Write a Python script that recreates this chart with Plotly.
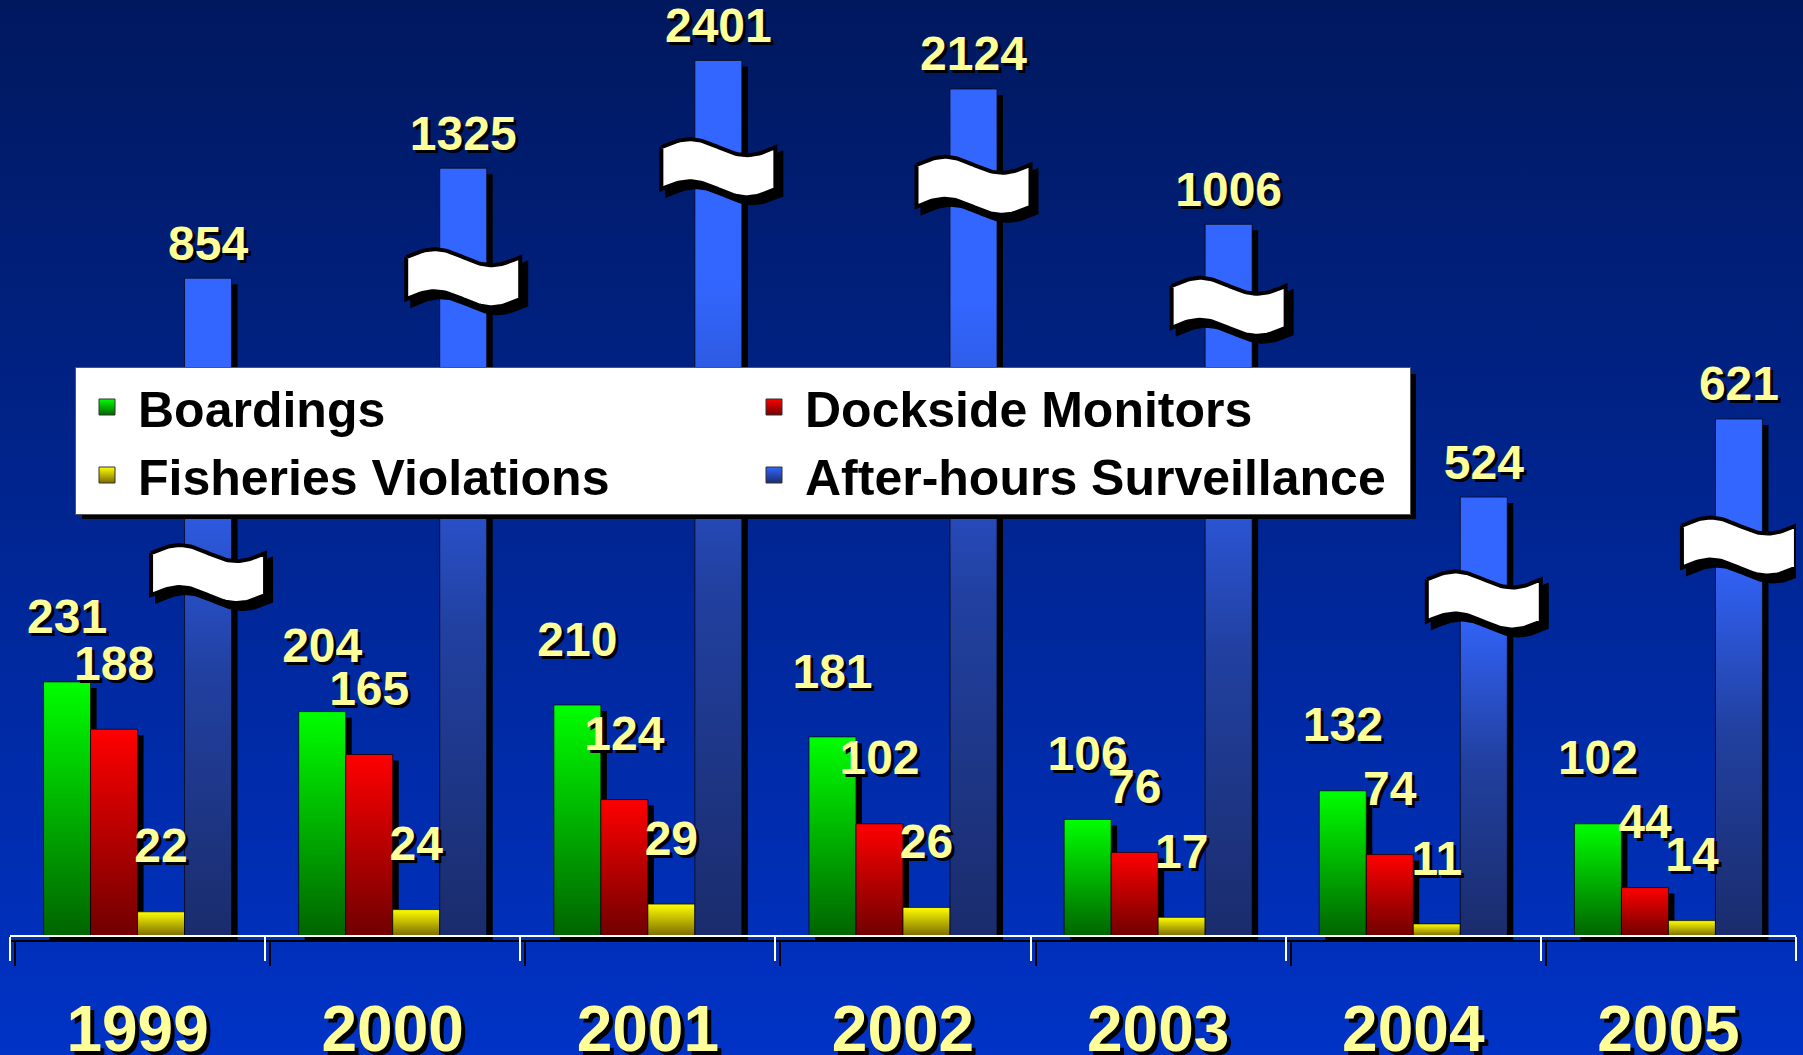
import base64
import numpy as np
import plotly.graph_objects as go

# values
years = ["1999", "2000", "2001", "2002", "2003", "2004", "2005"]
boardings = [231, 204, 210, 181, 106, 132, 102]
dockside = [188, 165, 124, 102, 76, 74, 44]
violations = [22, 24, 29, 26, 17, 11, 14]
surveillance = [854, 1325, 2401, 2124, 1006, 524, 621]
# surveillance bars sit on a broken axis: height as drawn and where the break is (axis units)
surveillance_drawn = [598, 698, 796, 770, 647, 399, 470]
surveillance_break = [329, 598, 698, 682, 572, 305, 354]

W, H = 1803, 1055
BASE = 936            # pixel row of the baseline
PX_Y = 1.1            # pixels per value unit
X0, X1 = 10, 1796     # pixel columns of the outer category edges
PX_X = (X1 - X0) / len(years)
BAR_W = 47 / PX_X
SH = 6                # drop shadow offset, px

LABEL = "#ffff99"
FONT = "Liberation Sans, Arial, sans-serif"

series = [
    ("Boardings", boardings, boardings, [[0, "#006400"], [1, "#00ff00"]]),
    ("Dockside Monitors", dockside, dockside, [[0, "#700000"], [1, "#ff0000"]]),
    ("Fisheries Violations", violations, violations, [[0, "#7a6a00"], [1, "#ffff00"]]),
    ("After-hours Surveillance", surveillance, surveillance_drawn,
     [[0, "#1a2c6c"], [0.4, "#2140a0"], [0.75, "#3366ff"], [1, "#3366ff"]]),
]

fig = go.Figure()

# drop shadows behind every bar
sx, sy = [], []
for k, (_, _, heights, _) in enumerate(series):
    for i, h in enumerate(heights):
        a = i + (k - 2) * BAR_W + SH / PX_X
        b = a + BAR_W
        sx += [a, a, b, b, a, None]
        sy += [-SH / PX_Y, h - SH / PX_Y, h - SH / PX_Y, -SH / PX_Y, -SH / PX_Y, None]
fig.add_trace(go.Scatter(x=sx, y=sy, mode="lines", fill="toself", fillcolor="black",
                         line=dict(width=0), hoverinfo="skip", showlegend=False))

# bars, one trace each so every bar gets its own gradient
for k, (name, vals, heights, cs) in enumerate(series):
    for i, h in enumerate(heights):
        a = i + (k - 2) * BAR_W
        b = a + BAR_W
        fig.add_trace(go.Scatter(
            x=[a, a, b, b, a], y=[0, h, h, 0, 0], mode="lines", fill="toself",
            fillgradient=dict(type="vertical", colorscale=cs),
            line=dict(color="rgba(0,0,0,0.7)", width=1),
            name=name, hovertemplate=f"{name} {years[i]}: {vals[i]}<extra></extra>",
            showlegend=False))

# break marks on the surveillance bars
SQ_W, SQ_T, SQ_A = 114, 42, 8
t = np.linspace(0, 1, 50)
wx = (t - 0.5) * SQ_W
top = SQ_T / 2 + SQ_A * np.sin(2 * np.pi * t)
bot = top - SQ_T
qx, qy, qsx, qsy = [], [], [], []
for i, yb in enumerate(surveillance_break):
    cx = i + 1.5 * BAR_W
    px = np.concatenate([wx, wx[::-1], wx[:1]])
    py = np.concatenate([top, bot[::-1], top[:1]])
    qx += list(cx + px / PX_X) + [None]
    qy += list(yb + py / PX_Y) + [None]
    qsx += list(cx + (px + SH) / PX_X) + [None]
    qsy += list(yb + (py - SH) / PX_Y) + [None]
fig.add_trace(go.Scatter(x=qsx, y=qsy, mode="lines", fill="toself", fillcolor="black",
                         line=dict(color="black", width=4), hoverinfo="skip", showlegend=False))
fig.add_trace(go.Scatter(x=qx, y=qy, mode="lines", fill="toself", fillcolor="white",
                         line=dict(color="black", width=4), hoverinfo="skip", showlegend=False))

# value labels
for k, (name, vals, heights, _) in enumerate(series):
    gap = 6 if k == 3 else 34
    fig.add_trace(go.Scatter(
        x=[i + (k - 1.5) * BAR_W for i in range(len(years))],
        y=[h + gap for h in heights],
        mode="text", text=[str(v) for v in vals], textposition="top center",
        textfont=dict(family=FONT, size=48, color=LABEL, weight="bold",
                      shadow="3px 3px 0px #000000"),
        hoverinfo="skip", showlegend=False, cliponaxis=False))

# legend entries
for name, _, _, cs in series:
    fig.add_trace(go.Scatter(
        x=[None], y=[None], mode="markers", name=name,
        marker=dict(symbol="square", size=16, color=cs[-1][1],
                    gradient=dict(type="vertical", color=cs[0][1]),
                    line=dict(color="#333333", width=1))))

# carrier for the shadow copy of the category axis
fig.add_trace(go.Scatter(x=[None], y=[None], xaxis="x2", showlegend=False, hoverinfo="skip"))

edges = [i - 0.5 for i in range(len(years) + 1)]

svg = ('<svg xmlns="http://www.w3.org/2000/svg" width="10" height="100" preserveAspectRatio="none">'
       '<defs><linearGradient id="g" x1="0" y1="0" x2="0" y2="1">'
       '<stop offset="0" stop-color="#00185e"/><stop offset="1" stop-color="#0033c6"/>'
       '</linearGradient></defs><rect width="10" height="100" fill="url(#g)"/></svg>')
bg = "data:image/svg+xml;base64," + base64.b64encode(svg.encode()).decode()

LEG_X, LEG_Y, LEG_W, LEG_H = 75, 367, 1334, 145

fig.update_layout(
    width=W, height=H,
    margin=dict(l=0, r=0, t=0, b=0, autoexpand=False),
    paper_bgcolor="#00289a", plot_bgcolor="rgba(0,0,0,0)",
    images=[dict(source=bg, xref="paper", yref="paper", x=0, y=1, sizex=1, sizey=1,
                 sizing="stretch", layer="below")],
    xaxis=dict(
        domain=[X0 / W, X1 / W], range=[-0.5, len(years) - 0.5],
        anchor="free", position=(H - BASE) / H, automargin=False,
        showline=True, linecolor="white", linewidth=2,
        tickmode="array", tickvals=list(range(len(years))), ticktext=years,
        ticks="outside", ticklen=37, tickcolor="rgba(0,0,0,0)",
        tickfont=dict(family=FONT, size=64, color=LABEL, weight="bold",
                      shadow="4px 4px 0px #000000"),
        minor=dict(tickmode="array", tickvals=edges, ticks="outside", ticklen=24,
                   tickwidth=2, tickcolor="white", showgrid=False),
        showgrid=False, zeroline=False, fixedrange=True),
    xaxis2=dict(
        overlaying="x", anchor="free", position=(H - BASE - 5) / H, automargin=False,
        range=[-0.5 - 5 / PX_X, len(years) - 0.5 - 5 / PX_X],
        showline=True, linecolor="black", linewidth=2,
        tickmode="array", tickvals=[], showticklabels=False,
        minor=dict(tickmode="array", tickvals=edges, ticks="outside", ticklen=24,
                   tickwidth=2, tickcolor="black", showgrid=False),
        showgrid=False, zeroline=False, fixedrange=True),
    yaxis=dict(range=[-(H - BASE) / PX_Y, BASE / PX_Y], visible=False,
               fixedrange=True, automargin=False),
    legend=dict(
        orientation="h", x=LEG_X / W, xanchor="left", y=1 - LEG_Y / H, yanchor="top",
        bgcolor="white", bordercolor="#555555", borderwidth=1,
        font=dict(family=FONT, size=50, color="black", weight="bold"),
        itemsizing="trace", itemwidth=52, entrywidth=600, entrywidthmode="pixels"),
    shapes=[dict(type="rect", xref="paper", yref="paper", layer="above",
                 x0=(LEG_X + 7) / W, x1=(LEG_X + LEG_W + 7) / W,
                 y0=1 - (LEG_Y + 7) / H, y1=1 - (LEG_Y + LEG_H + 7) / H,
                 fillcolor="black", line=dict(width=0))],
    showlegend=True,
)

fig.write_html("out.html", config={"displayModeBar": False}, post_script=(
    "document.body.style.margin='0';"
    "document.body.style.overflow='hidden';"
    "document.documentElement.style.overflow='hidden';"))
